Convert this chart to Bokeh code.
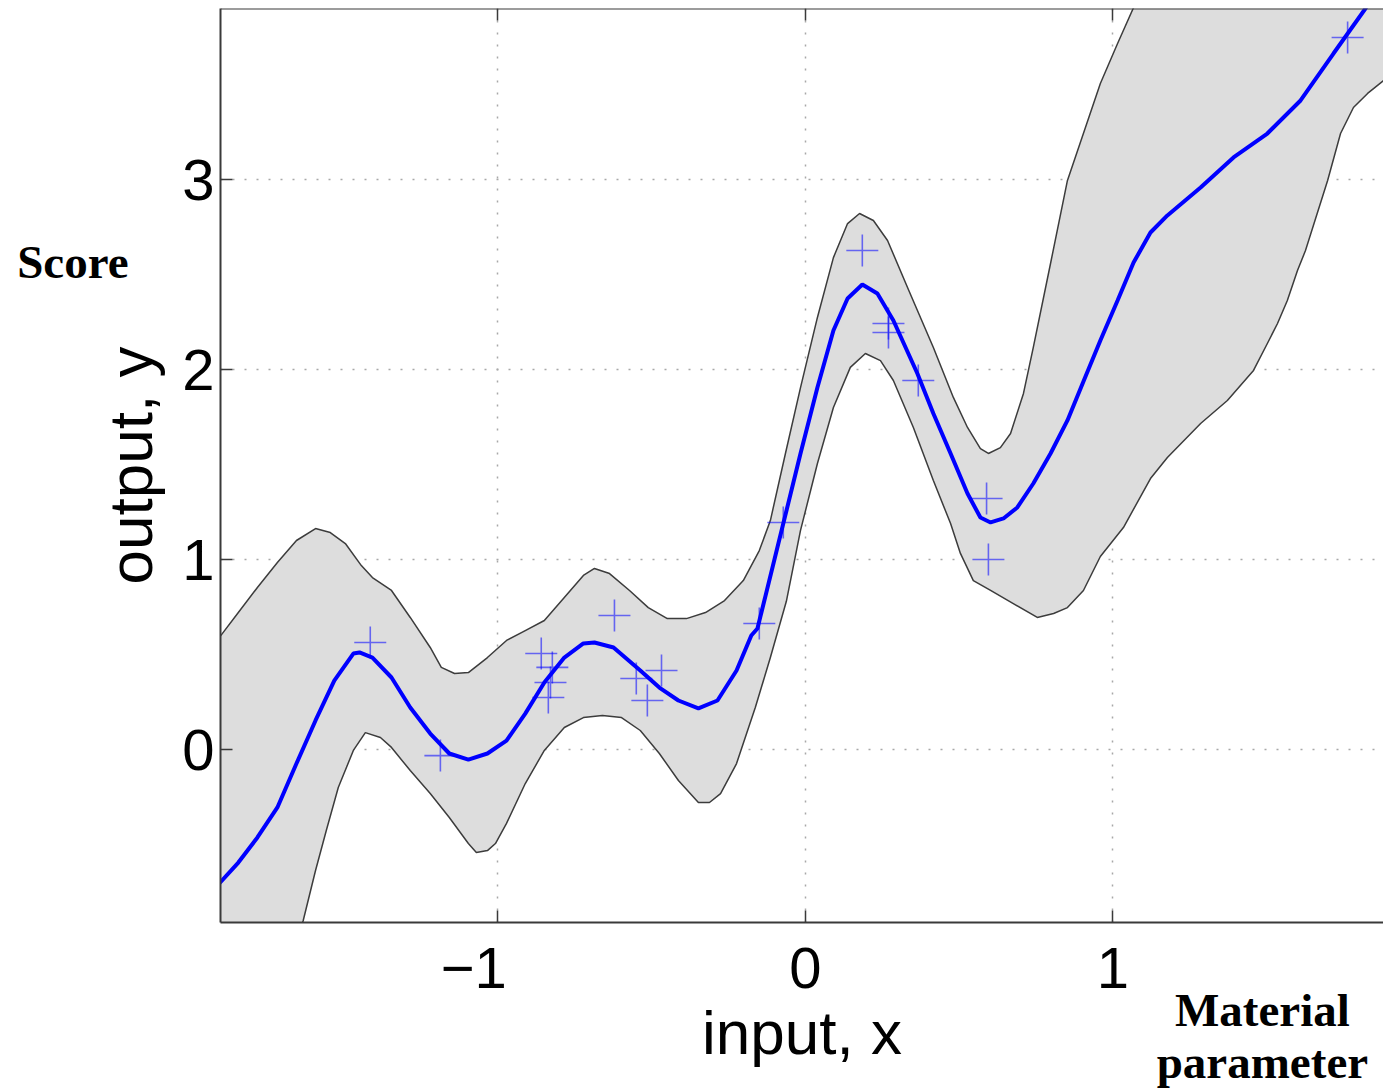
from bokeh.plotting import figure
from bokeh.models import LinearAxis, Range1d, FixedTicker
from bokeh.embed import file_html
from bokeh.resources import INLINE

# ---- data ----
mean_x = [-1.906, -1.844, -1.782, -1.717, -1.655, -1.593, -1.532, -1.470, -1.450, -1.408,
          -1.346, -1.285, -1.220, -1.158, -1.096, -1.034, -0.972, -0.911, -0.849, -0.784,
          -0.722, -0.686, -0.624, -0.537, -0.475, -0.413, -0.348, -0.286, -0.224, -0.176,
          -0.156, -0.072, -0.016, 0.039, 0.091, 0.137, 0.185, 0.234, 0.286, 0.364,
          0.416, 0.472, 0.527, 0.569, 0.602, 0.644, 0.689, 0.741, 0.797, 0.852,
          0.904, 0.959, 1.015, 1.067, 1.122, 1.177, 1.285, 1.392, 1.502, 1.610,
          1.717, 1.821, 1.880, 1.950]
mean_y = [-0.705, -0.595, -0.463, -0.305, -0.074, 0.153, 0.363, 0.505, 0.511, 0.484,
          0.379, 0.221, 0.084, -0.021, -0.053, -0.021, 0.047, 0.189, 0.353, 0.484,
          0.558, 0.563, 0.537, 0.416, 0.326, 0.258, 0.216, 0.258, 0.416, 0.600,
          0.637, 1.189, 1.558, 1.905, 2.205, 2.374, 2.447, 2.400, 2.258, 1.979,
          1.768, 1.558, 1.347, 1.221, 1.195, 1.216, 1.274, 1.400, 1.558, 1.732,
          1.937, 2.153, 2.363, 2.563, 2.721, 2.811, 2.958, 3.116, 3.242, 3.416,
          3.663, 3.900, 4.047, 4.250]

upper_x = [-1.906, -1.844, -1.782, -1.717, -1.655, -1.593, -1.545, -1.496, -1.444, -1.408,
           -1.346, -1.285, -1.220, -1.184, -1.141, -1.096, -1.034, -0.972, -0.911, -0.849,
           -0.784, -0.722, -0.686, -0.637, -0.572, -0.511, -0.449, -0.387, -0.325, -0.263,
           -0.202, -0.150, -0.114, -0.065, -0.016, 0.039, 0.091, 0.137, 0.176, 0.221,
           0.267, 0.332, 0.416, 0.481, 0.527, 0.569, 0.595, 0.634, 0.667, 0.709,
           0.741, 0.797, 0.852, 0.959, 1.015, 1.067, 1.200, 1.500, 1.950]
upper_y = [0.589, 0.721, 0.853, 0.984, 1.100, 1.163, 1.142, 1.084, 0.968, 0.905,
           0.837, 0.695, 0.537, 0.432, 0.400, 0.405, 0.484, 0.574, 0.626, 0.679,
           0.800, 0.916, 0.953, 0.926, 0.837, 0.747, 0.689, 0.689, 0.721, 0.784,
           0.889, 1.047, 1.205, 1.558, 1.905, 2.274, 2.589, 2.768, 2.821, 2.784,
           2.679, 2.432, 2.116, 1.853, 1.695, 1.584, 1.558, 1.589, 1.663, 1.874,
           2.116, 2.558, 2.995, 3.505, 3.716, 3.905, 4.400, 5.000, 5.600]

lower_x = [-1.906, -1.750, -1.633, -1.593, -1.558, -1.519, -1.470, -1.431, -1.382, -1.346,
           -1.285, -1.220, -1.158, -1.096, -1.070, -1.034, -1.008, -0.972, -0.911, -0.849,
           -0.784, -0.722, -0.660, -0.598, -0.537, -0.475, -0.413, -0.348, -0.312, -0.276,
           -0.224, -0.163, -0.114, -0.062, -0.016, 0.039, 0.091, 0.146, 0.195, 0.244,
           0.286, 0.351, 0.416, 0.472, 0.504, 0.546, 0.602, 0.676, 0.754, 0.807,
           0.852, 0.904, 0.959, 1.034, 1.122, 1.177, 1.285, 1.372, 1.457, 1.502,
           1.535, 1.567, 1.600, 1.626, 1.698, 1.740, 1.782, 1.828, 1.880, 1.950]
lower_y = [-2.300, -1.500, -0.900, -0.637, -0.426, -0.200, -0.005, 0.089, 0.063, 0.011,
           -0.111, -0.232, -0.358, -0.495, -0.542, -0.532, -0.495, -0.389, -0.179, -0.005,
           0.116, 0.168, 0.179, 0.168, 0.100, -0.021, -0.163, -0.279, -0.279, -0.232,
           -0.074, 0.221, 0.484, 0.780, 1.153, 1.505, 1.800, 2.011, 2.084, 2.047,
           1.942, 1.695, 1.416, 1.189, 1.032, 0.889, 0.837, 0.768, 0.695, 0.716,
           0.747, 0.837, 1.016, 1.168, 1.426, 1.537, 1.716, 1.837, 1.995, 2.137,
           2.242, 2.363, 2.521, 2.626, 2.995, 3.242, 3.379, 3.453, 3.521, 3.600]

pts_x = [-1.415, -1.187, -0.859, -0.823, -0.829, -0.836, -0.621, -0.550, -0.514, -0.468,
         -0.150, -0.072, 0.185, 0.270, 0.270, 0.367, 0.589, 0.595, 1.763]
pts_y = [0.563, -0.032, 0.505, 0.432, 0.353, 0.274, 0.705, 0.374, 0.258, 0.416,
         0.663, 1.195, 2.626, 2.242, 2.195, 1.942, 1.321, 1.000, 3.747]

x_ticks = [-1, 0, 1]
y_ticks = [0, 1, 2, 3]
x_tick_labels = {-1: "\u22121\u00a0\u00a0\u00a0", 0: "0", 1: "1"}
x_label = "input, x"
y_label = "output, y"
side_y_label = "Score"
side_x_label = "Material\nparameter"

# ---- figure ----
X0, X1 = -1.902, 1.8797
Y0, Y1 = -0.9105, 3.9
p = figure(width=1383, height=1091,
           x_range=Range1d(X0, X1), y_range=Range1d(Y0, Y1),
           output_backend="svg", toolbar_location=None,
           min_border_left=220, min_border_right=0, min_border_top=8,
           min_border_bottom=169)
p.outline_line_color = None
p.background_fill_color = "white"

AX = "#3a3a3a"
FONT = "Liberation Sans"
SERIF = "Liberation Serif"


def style_axis(ax):
    ax.axis_line_color = AX
    ax.axis_line_width = 2
    ax.major_tick_line_color = AX
    ax.major_tick_line_width = 1.5
    ax.major_tick_in = 12
    ax.major_tick_out = 0
    ax.minor_tick_line_color = None
    ax.major_label_text_font = FONT
    ax.major_label_text_font_size = "58px"
    ax.major_label_text_color = "black"
    ax.axis_label_text_font = FONT
    ax.axis_label_text_font_size = "62px"
    ax.axis_label_text_font_style = "normal"
    ax.axis_label_text_color = "black"


style_axis(p.xaxis[0])
style_axis(p.yaxis[0])
p.xaxis[0].ticker = FixedTicker(ticks=x_ticks)
p.yaxis[0].ticker = FixedTicker(ticks=y_ticks)
p.xaxis[0].major_label_overrides = x_tick_labels
p.xaxis[0].axis_label = x_label
p.yaxis[0].axis_label = y_label
p.xaxis[0].major_label_standoff = 12
p.xaxis[0].axis_label_standoff = -5
p.yaxis[0].major_label_standoff = 6
p.yaxis[0].axis_label_standoff = 14

# top frame edge with inward ticks (inside the frame, takes no panel space)
top = LinearAxis(ticker=FixedTicker(ticks=x_ticks), fixed_location=Y1)
style_axis(top)
top.major_label_text_color = None
p.add_layout(top, "above")


def text_axis(tick, label, standoff, side):
    ax = LinearAxis(ticker=FixedTicker(ticks=[tick]),
                    major_label_overrides={tick: label})
    ax.axis_line_color = None
    ax.major_tick_line_color = None
    ax.minor_tick_line_color = None
    ax.major_tick_in = 0
    ax.major_tick_out = 0
    ax.major_label_standoff = standoff
    ax.major_label_text_font = SERIF
    ax.major_label_text_font_size = "47px"
    ax.major_label_text_font_style = "bold"
    ax.major_label_text_line_height = 1.0
    ax.major_label_text_color = "black"
    p.add_layout(ax, side)
    return ax


# "Score" outside the left axis, "Material parameter" outside the bottom axis
text_axis(2.568, side_y_label, -35, "left")
text_axis(1.486, side_x_label, -86, "below")

p.grid.grid_line_color = "#a8a8a8"
p.grid.grid_line_dash = "2 10"
p.grid.grid_line_width = 1.5
p.xgrid.ticker = FixedTicker(ticks=x_ticks)
p.ygrid.ticker = FixedTicker(ticks=y_ticks)

# ---- glyphs ----
band_x = upper_x + lower_x[::-1]
band_y = upper_y + lower_y[::-1]
p.patch(band_x, band_y, fill_color="#dddddd", line_color="#3c3c3c", line_width=1.5)
p.scatter(pts_x, pts_y, marker="cross", size=32, line_color="#0000ff",
          line_alpha=0.55, line_width=1.6)
p.line(mean_x, mean_y, line_color="#0000ff", line_width=4)

open("out.html", "w").write(file_html(p, INLINE))
